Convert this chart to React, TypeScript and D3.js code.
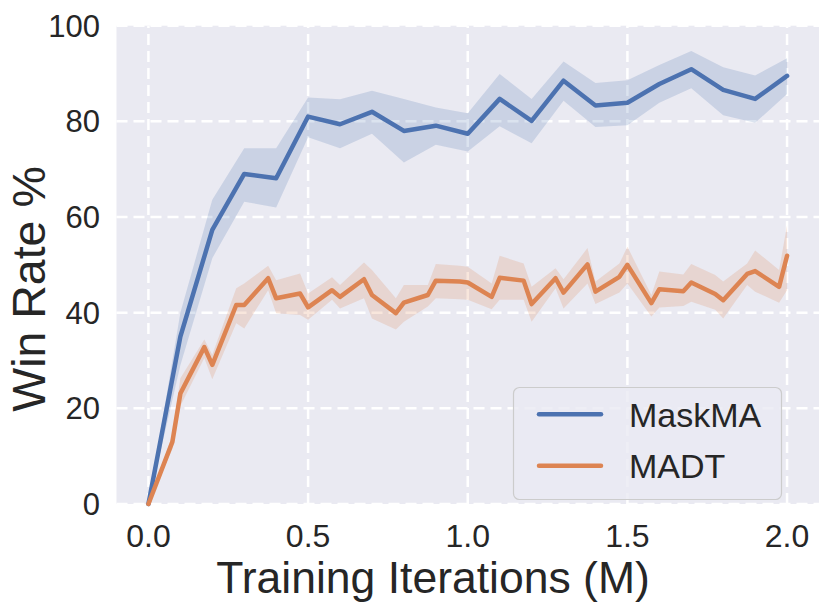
import React from "react";
import * as d3 from "d3";

// MaskMA: one point every 0.1M steps
const maskmaX = [0, 0.1, 0.2, 0.3, 0.4, 0.5, 0.6, 0.7, 0.8, 0.9, 1.0, 1.1, 1.2, 1.3, 1.4, 1.5, 1.6, 1.7, 1.8, 1.9, 2.0];
const maskmaMean = [0, 35, 57.3, 69.0, 68.1, 81.0, 79.4, 82.0, 78.0, 79.1, 77.4, 84.7, 80.1, 88.5, 83.3, 83.9, 87.8, 90.9, 86.6, 84.7, 89.5];
const maskmaUpper = [0, 40, 63.6, 74.4, 74.4, 85.0, 84.6, 86.4, 84.7, 82.9, 81.7, 89.9, 84.7, 92.5, 88.0, 88.6, 91.8, 94.7, 91.3, 89.6, 93.2];
const maskmaLower = [0, 29, 51.4, 63.2, 62.0, 76.7, 74.4, 77.4, 71.4, 75.1, 73.7, 79.0, 75.4, 84.3, 78.8, 79.2, 83.9, 86.9, 81.3, 79.7, 85.7];

// MADT
const madtX = [0, 0.075, 0.1, 0.175, 0.2, 0.275, 0.3, 0.375, 0.4, 0.475, 0.5, 0.575, 0.6, 0.675, 0.7, 0.775, 0.8, 0.875, 0.9, 0.975, 1.0,
  1.075, 1.1, 1.175, 1.2, 1.275, 1.3, 1.375, 1.4, 1.475, 1.5, 1.575, 1.6, 1.675, 1.7, 1.775, 1.8, 1.875, 1.9, 1.975, 2.0];
const madtMean = [0, 13.0, 23.1, 32.8, 29.1, 41.6, 41.6, 47.2, 43.0, 44.0, 41.1, 44.7, 43.3, 47.0, 43.7, 39.9, 42.1, 43.7, 46.7, 46.5, 46.3,
  43.3, 47.3, 46.7, 41.8, 47.2, 44.2, 50.1, 44.4, 47.5, 50.0, 42.0, 44.9, 44.5, 46.3, 43.9, 42.6, 48.1, 48.7, 45.4, 51.9];
const madtUpper = [0, 14.5, 26.3, 34.4, 31.2, 45.1, 46.1, 49.8, 46.8, 48.2, 44.0, 47.4, 45.8, 50.5, 48.9, 43.0, 45.8, 45.8, 50.2, 49.8, 49.6,
  46.1, 51.9, 50.3, 45.4, 49.3, 47.0, 53.5, 46.5, 50.3, 53.8, 43.7, 48.6, 48.0, 50.2, 47.9, 46.5, 50.3, 53.0, 48.9, 58.3];
const madtLower = [0, 11.5, 20.5, 30.5, 26.1, 37.8, 36.7, 44.7, 39.9, 39.5, 38.5, 42.7, 40.9, 43.0, 38.8, 36.5, 38.1, 41.3, 43.0, 42.8, 42.7,
  40.7, 42.7, 42.7, 38.1, 45.1, 40.9, 46.1, 41.8, 44.2, 46.1, 39.2, 41.1, 41.4, 42.3, 40.6, 38.8, 45.8, 44.4, 42.1, 44.7];

const xTicks = [0, 0.5, 1.0, 1.5, 2.0];
const yTicks = [0, 20, 40, 60, 80, 100];
const seriesNames = ["MaskMA", "MADT"];

const BLUE = "#4c72b0";
const ORANGE = "#dd8452";
const INK = "#262626";
const FONT = "'Liberation Sans', Arial, 'DejaVu Sans', sans-serif";

type Pt = { x: number; m: number; lo: number; hi: number };

function zip(xs: number[], m: number[], lo: number[], hi: number[]): Pt[] {
  return xs.map((x, i) => ({ x, m: m[i], lo: lo[i], hi: hi[i] }));
}

export default function App() {
  const width = 831;
  const height = 615;

  const x = d3.scaleLinear().domain([-0.1, 2.1]).range([116.5, 819]);
  const y = d3.scaleLinear().domain([0, 100]).range([504, 25.7]);

  const series = [
    { name: seriesNames[0], color: BLUE, data: zip(maskmaX, maskmaMean, maskmaLower, maskmaUpper) },
    { name: seriesNames[1], color: ORANGE, data: zip(madtX, madtMean, madtLower, madtUpper) },
  ];

  const line = d3.line<Pt>().x(d => x(d.x)).y(d => y(d.m));
  const band = d3.area<Pt>().x(d => x(d.x)).y0(d => y(d.lo)).y1(d => y(d.hi));

  const [x0, x1] = x.range();
  const [yb, yt] = y.range();

  return (
    <svg width={width} height={height} style={{ position: "absolute", left: 0, top: 0, background: "#fff" }}>
      {/* plot background */}
      <rect x={x0} y={yt} width={x1 - x0} height={yb - yt} fill="#eaeaf2" />

      {/* grid */}
      <g stroke="#fff" strokeWidth={2.5} strokeDasharray="11,6">
        {xTicks.map(t => (
          <line key={"gx" + t} x1={x(t)} x2={x(t)} y1={yb} y2={yt} />
        ))}
        {yTicks.map(t => (
          <line key={"gy" + t} x1={x0} x2={x1} y1={y(t)} y2={y(t)} />
        ))}
      </g>

      {/* bands then lines */}
      {series.map(s => (
        <path key={s.name + "band"} d={band(s.data) || ""} fill={s.color} fillOpacity={0.2} stroke="none" />
      ))}
      {series.map(s => (
        <path key={s.name + "line"} d={line(s.data) || ""} fill="none" stroke={s.color} strokeWidth={4.5}
          strokeLinejoin="round" strokeLinecap="round" />
      ))}

      {/* tick labels */}
      <g fontFamily={FONT} fill={INK}>
        {yTicks.map(t => (
          <text key={"ty" + t} x={100} y={y(t) + 11} fontSize={31} textAnchor="end">{t}</text>
        ))}
        {xTicks.map(t => (
          <text key={"tx" + t} x={x(t)} y={546.5} fontSize={32} textAnchor="middle">{t.toFixed(1)}</text>
        ))}
        <text x={433} y={593} fontSize={44.5} textAnchor="middle">Training Iterations (M)</text>
        <text transform="translate(45,289) rotate(-90)" fontSize={46.5} textAnchor="middle">Win Rate %</text>
      </g>

      {/* legend */}
      <g fontFamily={FONT}>
        <rect x={513.5} y={387.5} width={268} height={112} rx={6} fill="#eaeaf2" fillOpacity={0.8} stroke="#cccccc" strokeWidth={1.2} />
        {series.map((s, i) => (
          <g key={s.name + "leg"}>
            <line x1={539} x2={601} y1={414.3 + i * 51.4} y2={414.3 + i * 51.4} stroke={s.color} strokeWidth={4.5} strokeLinecap="round" />
            <text x={629} y={426.7 + i * 51.6} fontSize={34} fill={INK}>{s.name}</text>
          </g>
        ))}
      </g>
    </svg>
  );
}
